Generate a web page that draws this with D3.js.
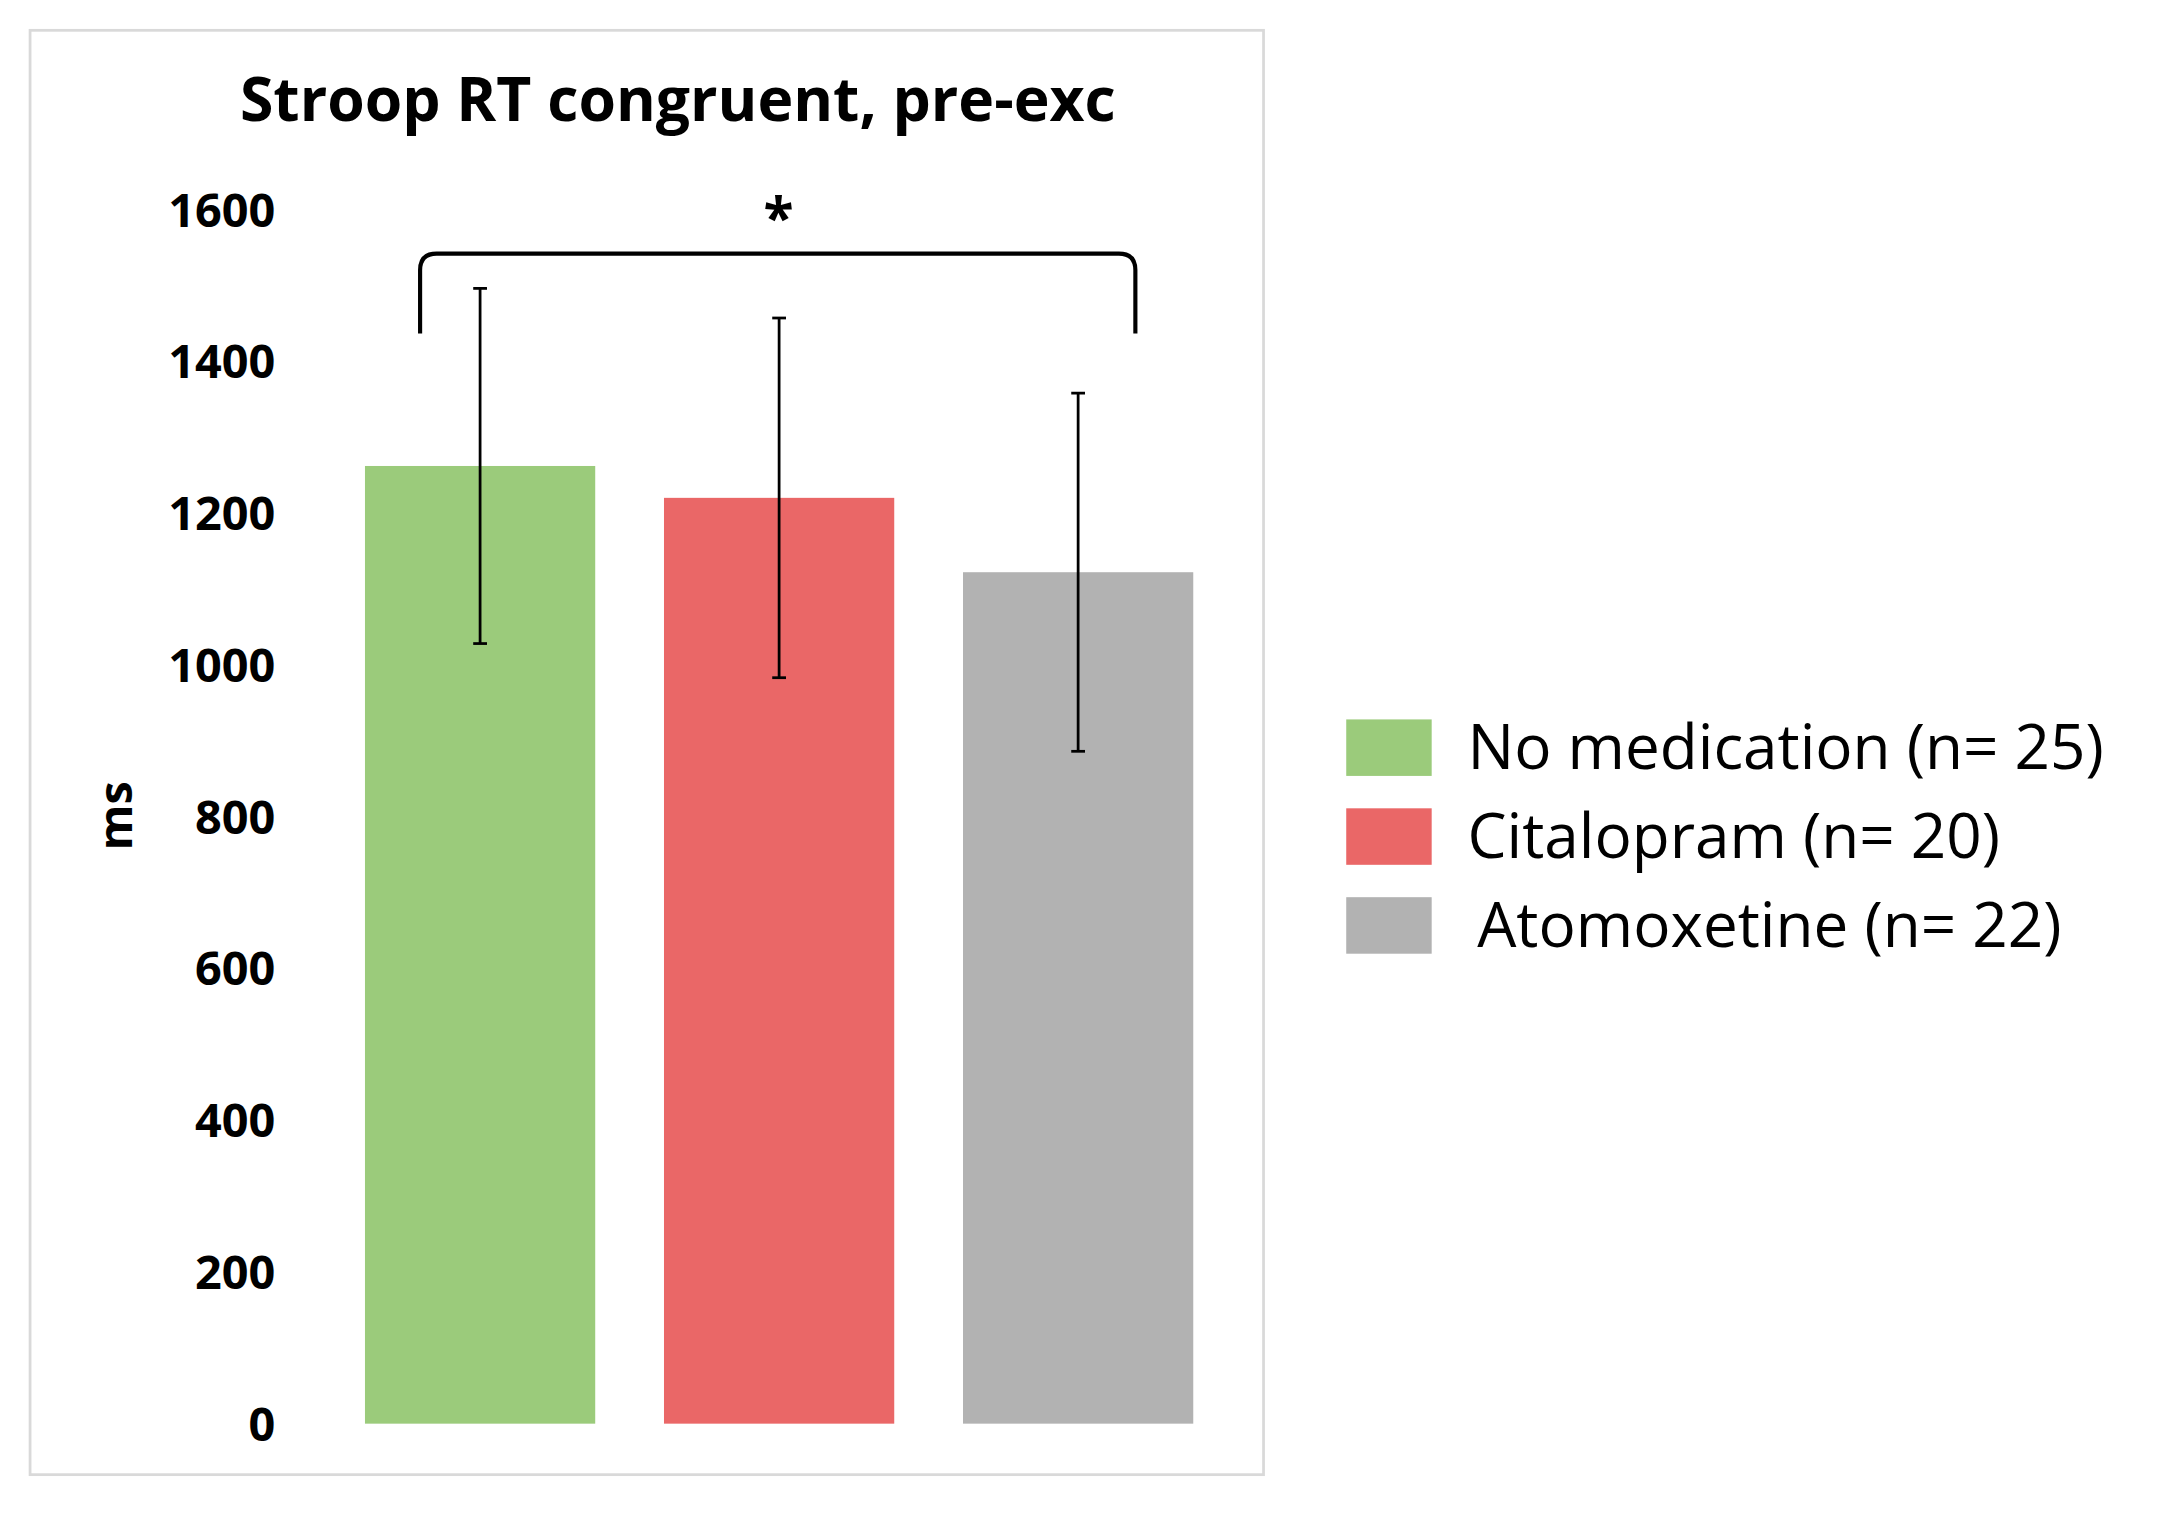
<!DOCTYPE html>
<head>
<script src="https://d3js.org/d3.v7.min.js"></script>
<style>
body { margin: 0; background: #fff; }
text { font-family: "Open Sans", "Liberation Sans", sans-serif; }
</style>
</head>
<body>
<svg class="chart"></svg>
<script>
var groups = ["No medication (n= 25)", "Citalopram (n= 20)", "Atomoxetine (n= 22)"];
var means = [1262, 1220, 1122];
var errors = [234, 237, 236];
var colors = ["#9bcb7b", "#ea6767", "#b2b2b2"];
var yTicks = [0, 200, 400, 600, 800, 1000, 1200, 1400, 1600];

// drawn in a 1568x1100 coordinate space, scaled up to the window
var svg = d3.select(".chart")
  .attr("width", 2166).attr("height", 1516)
  .attr("viewBox", "0 0 1568 1100");

svg.append("rect")
  .attr("x", 20).attr("y", 22).attr("width", 895).attr("height", 1048)
  .attr("fill", "#fff").attr("stroke", "#d9d9d9").attr("stroke-width", 2);

var x = d3.scaleBand().domain(groups).range([263, 864]).paddingInner(0.23).paddingOuter(0);
var y = d3.scaleLinear().domain([0, 1600]).range([1033, 152]);

// left axis, labels only
var yAxis = svg.append("g")
  .attr("transform", "translate(198,0)")
  .call(d3.axisLeft(y).tickValues(yTicks).tickFormat(d3.format("d")).tickSize(0).tickPadding(0));
yAxis.select(".domain").remove();
yAxis.selectAll("text").style("font-size", "34px").style("font-weight", "bold")
  .attr("fill", "#000").attr("dy", "0.35em");

svg.append("text")
  .attr("transform", "translate(94,592) rotate(-90)")
  .attr("text-anchor", "middle")
  .style("font-size", "34px").style("font-weight", "bold")
  .text("ms");

svg.append("text")
  .attr("x", 490).attr("y", 88).attr("text-anchor", "middle")
  .style("font-size", "44px").style("font-weight", "bold")
  .text("Stroop RT congruent, pre-exc");

svg.selectAll(".bar").data(groups).enter().append("rect")
  .attr("class", "bar")
  .attr("x", function(d){ return x(d); })
  .attr("width", x.bandwidth())
  .attr("y", function(d, i){ return y(means[i]); })
  .attr("height", function(d, i){ return y(0) - y(means[i]); })
  .attr("fill", function(d, i){ return colors[i]; });

// error bars
var eb = svg.selectAll(".err").data(groups).enter().append("g").attr("class", "err")
  .attr("stroke", "#000").attr("stroke-width", 2);
eb.append("line")
  .attr("x1", function(d){ return x(d) + x.bandwidth() / 2; })
  .attr("x2", function(d){ return x(d) + x.bandwidth() / 2; })
  .attr("y1", function(d, i){ return y(means[i] + errors[i]); })
  .attr("y2", function(d, i){ return y(means[i] - errors[i]); });
[1, -1].forEach(function(s){
  eb.append("line")
    .attr("x1", function(d){ return x(d) + x.bandwidth() / 2 - 5; })
    .attr("x2", function(d){ return x(d) + x.bandwidth() / 2 + 5; })
    .attr("y1", function(d, i){ return y(means[i] + s * errors[i]); })
    .attr("y2", function(d, i){ return y(means[i] + s * errors[i]); });
});

// significance bracket
var bx0 = 303, bx1 = 822, by = 184;
svg.append("path")
  .attr("d", "M" + bx0 + ",242 L" + bx0 + "," + (by + 12) + " Q" + bx0 + "," + by + " " + (bx0 + 12) + "," + by +
       " L" + (bx1 - 12) + "," + by + " Q" + bx1 + "," + by + " " + bx1 + "," + (by + 12) + " L" + bx1 + ",242")
  .attr("fill", "none").attr("stroke", "#000").attr("stroke-width", 3);
svg.append("text")
  .attr("x", 563).attr("y", 172).attr("text-anchor", "middle")
  .style("font-size", "40px").style("font-weight", "bold").text("*");

// legend
var lg = svg.selectAll(".leg").data(groups).enter().append("g").attr("class", "leg")
  .attr("transform", function(d, i){ return "translate(975," + (522 + i * 64.5) + ")"; });
lg.append("rect").attr("width", 62).attr("height", 41)
  .attr("fill", function(d, i){ return colors[i]; });
lg.append("text").attr("x", function(d, i){ return i == 2 ? 95 : 88; }).attr("y", 36)
  .style("font-size", "45px").text(function(d){ return d; });
</script>
</body>
